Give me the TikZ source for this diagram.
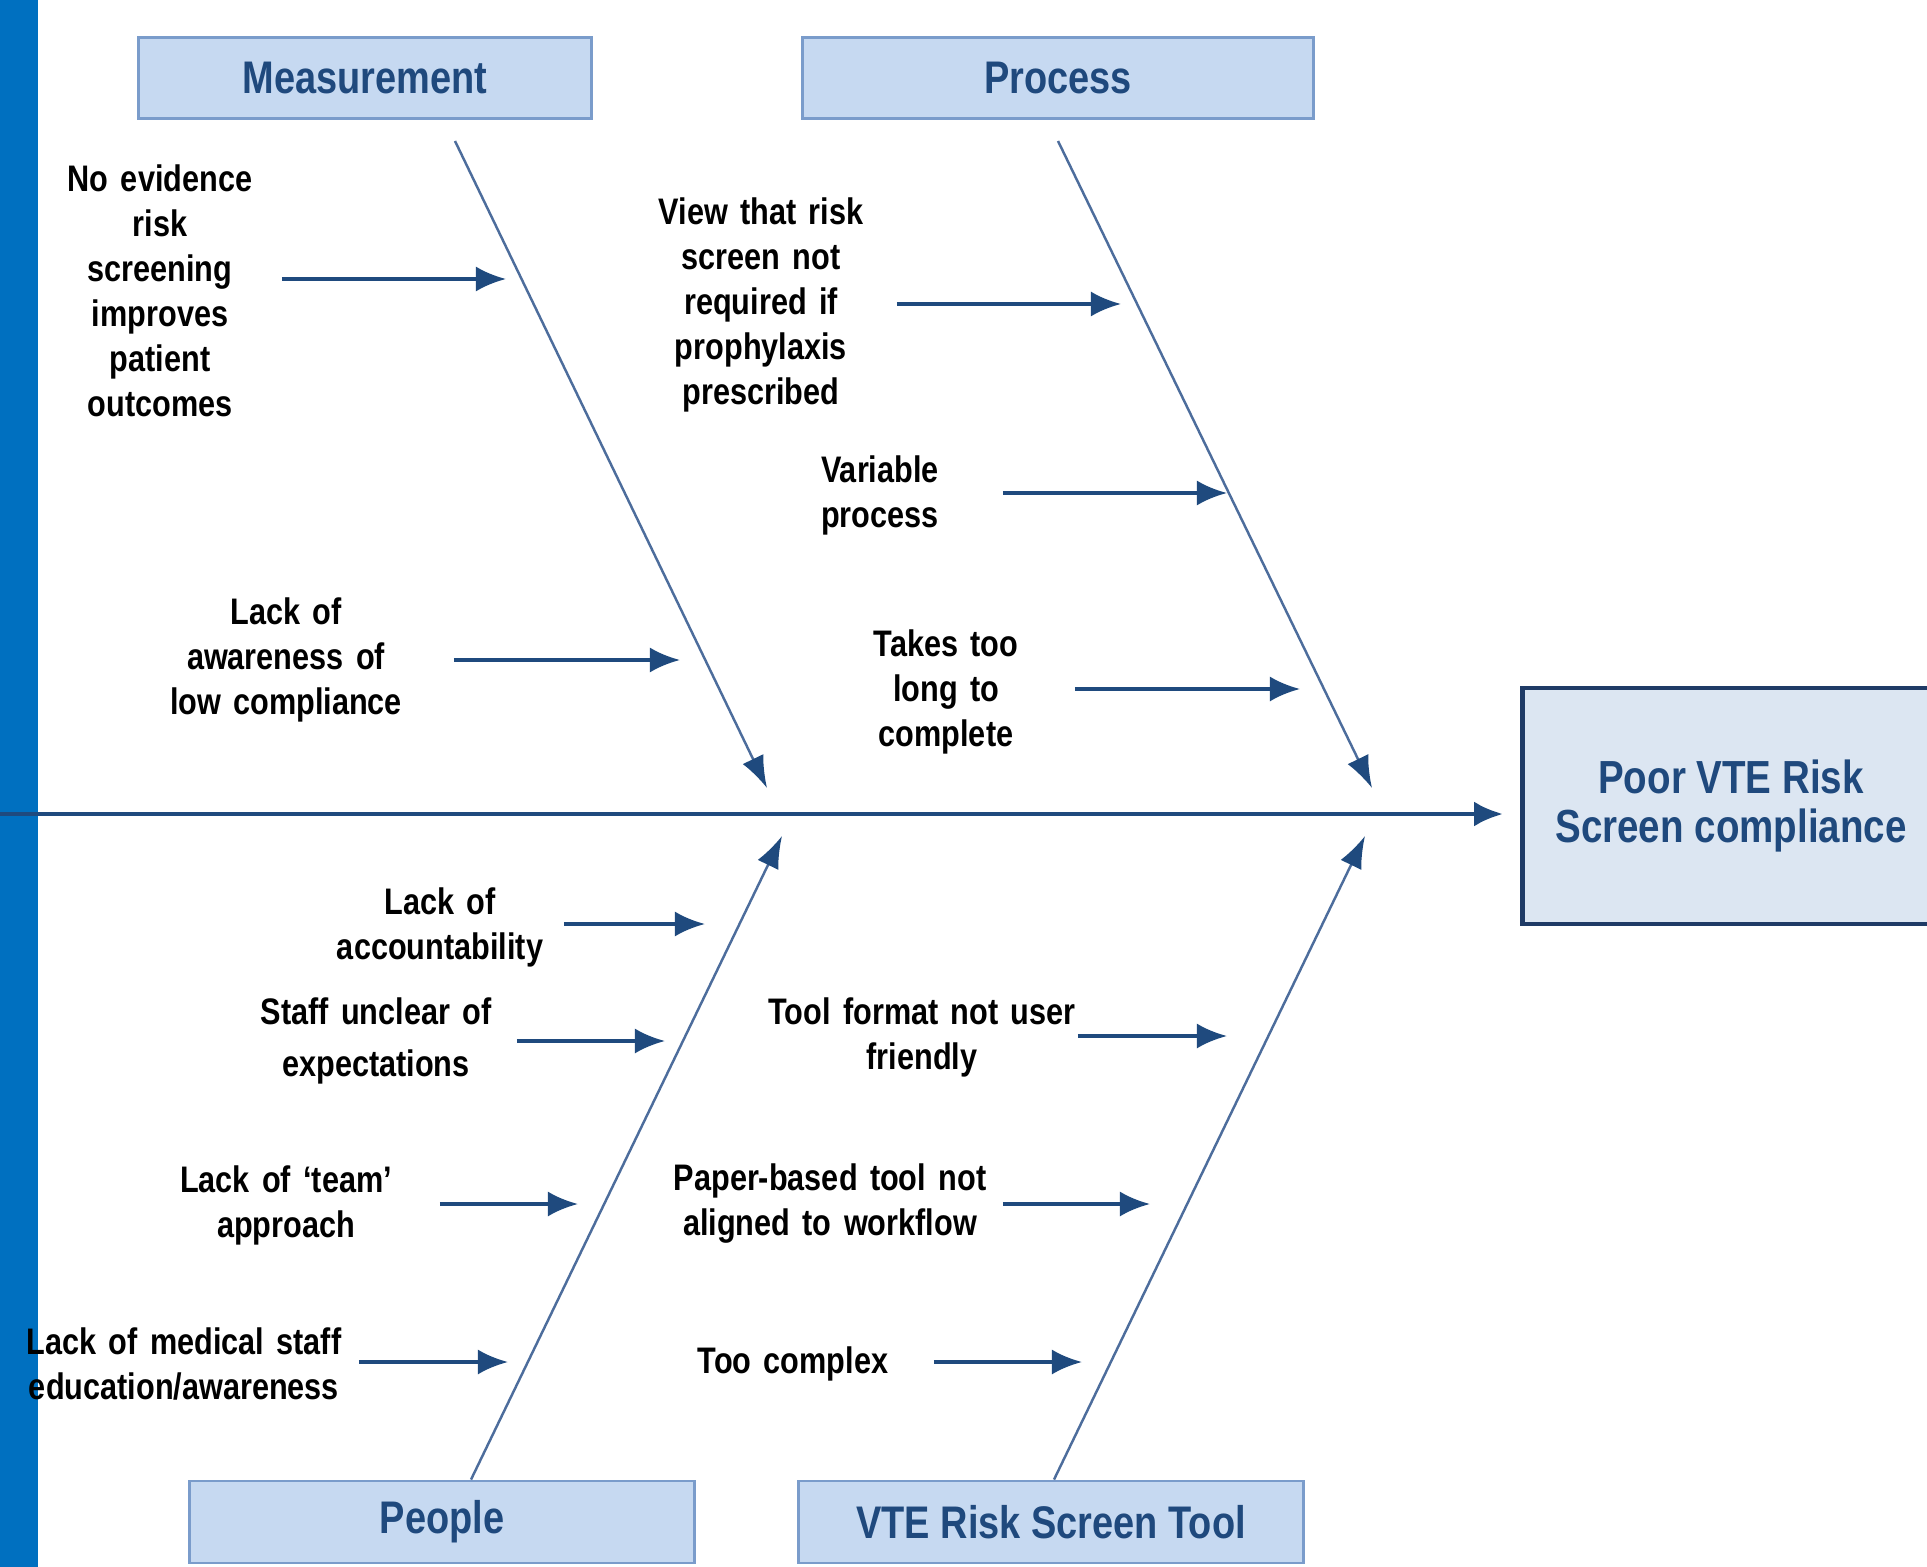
\documentclass[tikz,border=0pt]{standalone}
\usepackage{fontspec}
\setmainfont{Liberation Sans}[FakeStretch=0.83]
\usetikzlibrary{arrows.meta}
\definecolor{barblue}{HTML}{0070C0}
\definecolor{navy}{HTML}{1F4A7E}
\definecolor{bonecol}{HTML}{4D6D9C}
\definecolor{headfill}{HTML}{C6D9F1}
\definecolor{headline}{HTML}{7A9CCB}
\definecolor{effectfill}{HTML}{DCE6F2}
\definecolor{effectline}{HTML}{1F3B66}
\definecolor{headtext}{HTML}{1F497D}

\begin{document}
\begin{tikzpicture}[x=0.01cm, y=-0.01cm,
    category/.style={draw=headline, line width=0.8pt, fill=headfill,
      text=headtext, font=\bfseries\fontsize{13}{15}\selectfont,
      minimum height=0.81cm, inner sep=0pt},
    cause/.style={align=center, inner sep=0pt,
      font=\bfseries\fontsize{10.5}{12.8}\selectfont},
    arr/.style={-{Latex[length=0.3cm,width=0.25cm]}, navy, line width=1pt},
    bone/.style={-{Latex[length=0.32cm,width=0.23cm,color=navy]}, bonecol,
      line width=0.7pt},
    spine/.style={-{Latex[length=0.29cm,width=0.25cm]}, navy,
      line width=1.3pt}]
  \useasboundingbox (0,0) rectangle (1927,1567);
  \fill[barblue] (0,0) rectangle (38,1567);

  % categories and effect
  \node[category, minimum width=4.52cm] (meas) at (365,78) {Measurement};
  \node[category, minimum width=5.10cm] (proc) at (1058,78) {Process};
  \node[category, minimum width=5.04cm, minimum height=0.82cm] (people)
    at (442,1522) {People};
  \node[category, minimum width=5.04cm, minimum height=0.82cm] (tool)
    at (1051,1522) {VTE Risk Screen Tool};
  \node[draw=effectline, line width=1.3pt, fill=effectfill, text=headtext,
    align=center, minimum width=4.17cm, minimum height=2.36cm,
    font=\bfseries\fontsize{13.2}{15.6}\selectfont] (effect)
    at (1731,806) {\raisebox{-0.05cm}{Poor VTE Risk}\\Screen compliance};

  % spine and bones
  \coordinate (tail) at (0,814);
  \draw[spine, shorten >=0.17cm] (tail) -- (tail -| effect.west);
  \coordinate (mtop) at (455,141);
  \coordinate (mhead) at (767,788);
  \coordinate (ptop) at (1058,141);
  \coordinate (phead) at (1372,788);
  \coordinate (pehead) at (782,836);
  \coordinate (thead) at (1365,836);
  \draw[bone] (mtop) -- (mhead);
  \draw[bone] (ptop) -- (phead);
  \draw[bone] ([xshift=0.29cm]people.north) -- (pehead);
  \draw[bone] ([xshift=0.03cm]tool.north) -- (thead);

  % causes
  \node[cause, text width=2.42cm] (nevid) at (160,291)
    {No evidence\\risk\\screening\\improves\\patient\\outcomes};
  \node[cause, text width=3.34cm] (lackaw) at (286,660)
    {Lack of\\awareness of\\low compliance};
  \node[cause, text width=2.70cm] (viewrisk) at (761,305)
    {View that risk\\screen not\\required if\\prophylaxis\\prescribed};
  \node[cause, text width=2.44cm] (varproc) at (880,495)
    {Variable\\process};
  \node[cause, text width=2.56cm] (takes) at (946,692)
    {Takes too\\long to\\complete};
  \node[cause, text width=2.46cm] (account) at (440,927)
    {Lack of\\accountability};
  \node[cause, text width=2.80cm] (staff) at (376,1041)
    {Staff unclear of\\[0.07cm]expectations};
  \node[cause, text width=3.06cm] (team) at (286,1205)
    {Lack of ‘team’\\approach};
  \node[cause, text width=3.48cm] (medical) at (184,1364)
    {Lack of medical staff\\education/awareness};
  \node[cause, text width=3.10cm] (toolfmt) at (922,1037)
    {Tool format not user\\friendly};
  \node[cause, text width=3.44cm] (paper) at (830,1204)
    {Paper-based tool not\\aligned to workflow};
  \node[cause, text width=2.80cm] (complex) at (793,1364)
    {Too complex};

  \coordinate (t1) at (506,279);
  \coordinate (t2) at (680,660);
  \coordinate (t3) at (1121,304);
  \coordinate (t4) at (1227,493);
  \coordinate (t5) at (1300,689);
  \coordinate (t6) at (705,924);
  \coordinate (t7) at (665,1041);
  \coordinate (t8) at (578,1204);
  \coordinate (t9) at (508,1362);
  \coordinate (t10) at (1227,1036);
  \coordinate (t11) at (1150,1204);
  \coordinate (t12) at (1082,1362);
  \draw[arr] (nevid.east |- t1) -- (t1);
  \draw[arr] (lackaw.east |- t2) -- (t2);
  \draw[arr] (viewrisk.east |- t3) -- (t3);
  \draw[arr] (varproc.east |- t4) -- (t4);
  \draw[arr] (takes.east |- t5) -- (t5);
  \draw[arr] (account.east |- t6) -- (t6);
  \draw[arr] (staff.east |- t7) -- (t7);
  \draw[arr] (team.east |- t8) -- (t8);
  \draw[arr] (medical.east |- t9) -- (t9);
  \draw[arr] (toolfmt.east |- t10) -- (t10);
  \draw[arr] (paper.east |- t11) -- (t11);
  \draw[arr] (complex.east |- t12) -- (t12);
\end{tikzpicture}
\end{document}
